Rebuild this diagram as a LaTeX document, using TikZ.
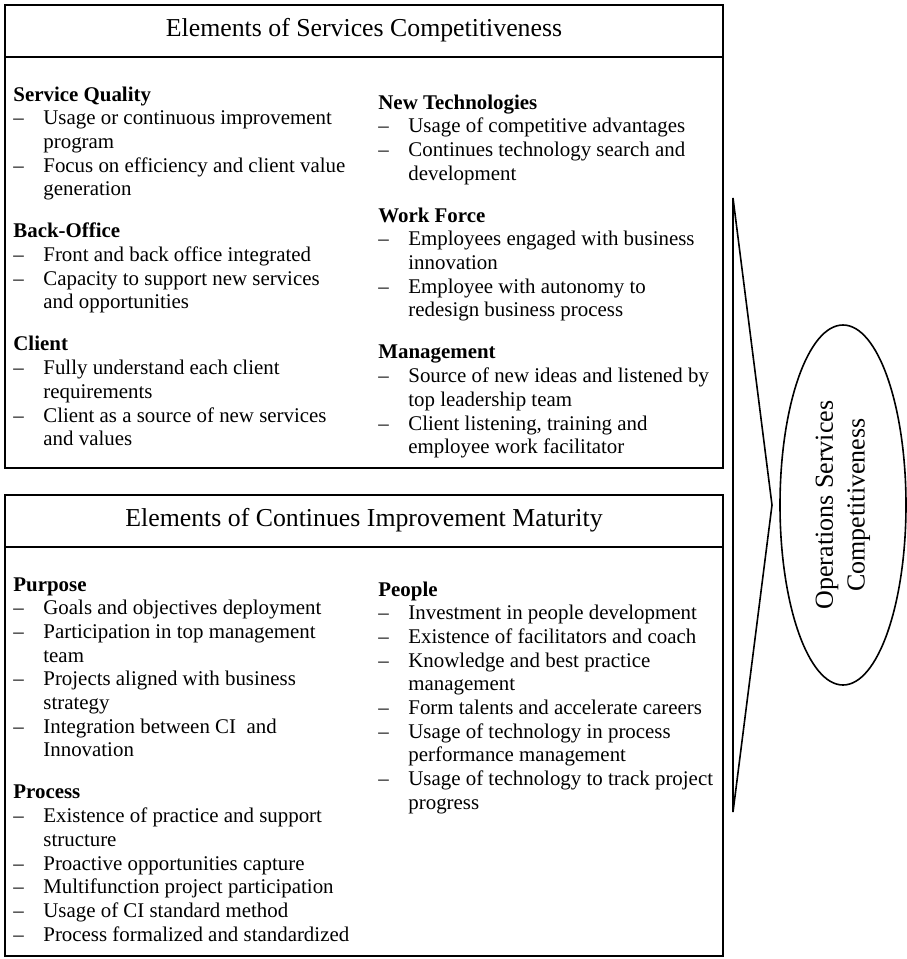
\documentclass[tikz,border=0pt]{standalone}
\usepackage{fontspec}
\setmainfont{Liberation Serif}
\usepackage{array}
\usetikzlibrary{shapes.geometric, positioning}
\newcommand{\bodyfont}{\fontsize{10.45}{11.85}\selectfont}
\newcommand{\hd}[1]{\multicolumn{2}{@{}l@{}}{\textbf{#1}}}
\tikzset{
  headbox/.style ={rectangle, draw, line width=1pt, minimum width=359pt, minimum height=26pt,
                   inner sep=0pt, outer sep=0pt, font=\fontsize{12.9}{15}\selectfont},
  bodybox/.style ={rectangle, draw, line width=1pt, minimum width=359pt, inner sep=0pt, outer sep=0pt},
  col/.style     ={anchor=base west, inner sep=0pt, font=\bodyfont},
  wedge/.style   ={draw, line width=0.8pt, line join=miter},
  goal/.style    ={ellipse, draw, line width=0.8pt, rotate=90, minimum width=180pt, minimum height=63pt,
                   inner sep=0pt, align=center, font=\fontsize{13}{15.85}\selectfont},
}

\begin{document}
\begin{tikzpicture}[x=0.5pt, y=-0.5pt]
\useasboundingbox (0,0) rectangle (906,959);
\node[headbox] (st) at (364,30.5) {Elements of Services Competitiveness};
\node[bodybox, below=0pt of st, minimum height=205.75pt] (sb) {};
\node[headbox] (ct) at (364,520.5) {Elements of Continues Improvement Maturity};
\node[bodybox, below=0pt of ct, minimum height=204.75pt] (cb) {};
\node[col] (sq) at (13,101) {\begin{tabular}[t]{@{}p{15pt}@{}l@{}}
\hd{Service Quality}\\
-- & Usage or continuous improvement\\
   & program\\
-- & Focus on efficiency and client value\\
   & generation\\[9.15pt]
\hd{Back-Office}\\
-- & Front and back office integrated\\
-- & Capacity to support new services\\
   & and opportunities\\[9.15pt]
\hd{Client}\\
-- & Fully understand each client\\
   & requirements\\
-- & Client as a source of new services\\
   & and values
\end{tabular}};
\node[col] (nt) at (378,109) {\begin{tabular}[t]{@{}p{15pt}@{}l@{}}
\hd{New Technologies}\\
-- & Usage of competitive advantages\\
-- & Continues technology search and\\
   & development\\[9.15pt]
\hd{Work Force}\\
-- & Employees engaged with business\\
   & innovation\\
-- & Employee with autonomy to\\
   & redesign business process\\[9.15pt]
\hd{Management}\\
-- & Source of new ideas and listened by\\
   & top leadership team\\
-- & Client listening, training and\\
   & employee work facilitator
\end{tabular}};
\node[col] (pu) at (13,591) {\begin{tabular}[t]{@{}p{15pt}@{}l@{}}
\hd{Purpose}\\
-- & Goals and objectives deployment\\
-- & Participation in top management\\
   & team\\
-- & Projects aligned with business\\
   & strategy\\
-- & Integration between CI\ \ and\\
   & Innovation\\[9.15pt]
\hd{Process}\\
-- & Existence of practice and support\\
   & structure\\
-- & Proactive opportunities capture\\
-- & Multifunction project participation\\
-- & Usage of CI standard method\\
-- & Process formalized and standardized
\end{tabular}};
\node[col] (pe) at (378,596) {\begin{tabular}[t]{@{}p{15pt}@{}l@{}}
\hd{People}\\
-- & Investment in people development\\
-- & Existence of facilitators and coach\\
-- & Knowledge and best practice\\
   & management\\
-- & Form talents and accelerate careers\\
-- & Usage of technology in process\\
   & performance management\\
-- & Usage of technology to track project\\
   & progress
\end{tabular}};
\draw[wedge] (733,198) -- (772,505) -- (733,812) -- cycle;
\node[goal] (osc) at (843,505) {Operations Services\\Competitiveness};
\end{tikzpicture}
\end{document}
